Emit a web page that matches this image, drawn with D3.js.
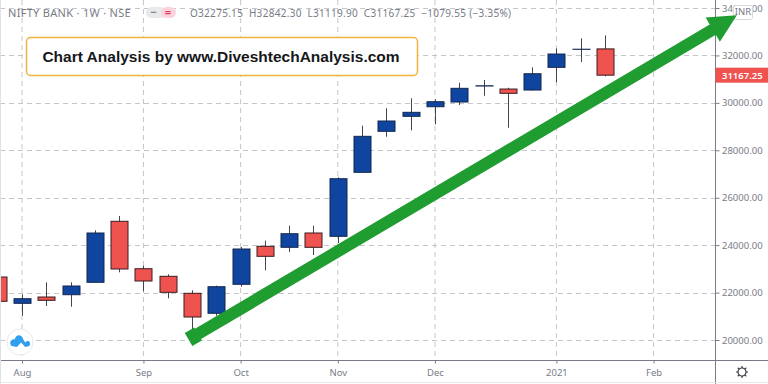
<!DOCTYPE html>
<html>
<head>
<meta charset="utf-8">
<script src="https://d3js.org/d3.v7.min.js"></script>
<style>
    html, body { margin: 0; padding: 0; background: #fff; overflow: hidden; }
    svg { display: block; }
    text { font-family: "Noto Sans", sans-serif; }
    .tick text { fill: #787b86; font-size: 9.5px; }
</style>
</head>
<body>
<script>
// weekly candles
const weeks = ['2020-07-27', '2020-08-03', '2020-08-10', '2020-08-17', '2020-08-24', '2020-08-31', '2020-09-07',
    '2020-09-14', '2020-09-21', '2020-09-28', '2020-10-05', '2020-10-12', '2020-10-19', '2020-10-26', '2020-11-02',
    '2020-11-09', '2020-11-16', '2020-11-23', '2020-11-30', '2020-12-07', '2020-12-14', '2020-12-21', '2020-12-28',
    '2021-01-04', '2021-01-11', '2021-01-18'];
const opens = [22656, 21547, 21813, 21910, 22433, 25005, 23006, 22686, 21969, 21126, 22349, 23951, 23909, 24512, 24372,
    27071, 28800, 29432, 29837, 30035, 30710, 30583, 30541, 31498, 32257, 32275.15];
const closes = [21632, 21741, 21674, 22277, 24512, 22994, 22488, 22011, 20970, 22247, 23837, 23529, 24482, 23909, 26801,
    28589, 29234, 29601, 30048, 30613, 30720, 30402, 31228, 32059, 32262, 31167.25];
const highs = [22700, 21927, 22433, 22433, 24625, 25228, 23133, 22770, 22096, 22290, 23921, 24187, 24819, 24819, 26860,
    29036, 29769, 30191, 30149, 30849, 30963, 30638, 31498, 32300, 32721, 32842.30];
const lows = [21600, 21025, 21434, 21404, 22420, 22854, 22053, 21758, 20422, 21025, 22247, 22939, 23710, 23584, 24090,
    27050, 28572, 28842, 29095, 29909, 30301, 28951, 30520, 30866, 31722, 31119.90];

const priceTicks = [20000, 22000, 24000, 26000, 28000, 30000, 32000, 34000];
const monthDates = ['2020-08-03', '2020-09-07', '2020-10-05', '2020-11-02', '2020-11-30', '2021-01-04', '2021-02-01'];
const monthLabels = ['Aug', 'Sep', 'Oct', 'Nov', 'Dec', '2021', 'Feb'];
const headerTitle = 'NIFTY BANK · 1W · NSE';
const headerValues = 'O32275.15  H32842.30  L31119.90  C31167.25  −1079.55 (−3.35%)';
const lastPrice = 31167.25;
const bannerText = 'Chart Analysis by www.DiveshtechAnalysis.com';
const arrowStart = { date: '2020-09-20', price: 20020 };
const arrowTip = { date: '2021-02-25', price: 33690 };

const width = 768;
const height = 384;
const axisX = 715.5;
const axisY = 360.5;
const bodyWidth = 17;

const parseDate = d3.utcParse('%Y-%m-%d');

const x = d3.scaleUtc()
    .domain([parseDate(weeks[0]), parseDate(weeks[weeks.length - 1])])
    .range([-2.3, 605]);

const y = d3.scaleLinear()
    .domain([20000, 34000])
    .range([340, 8]);

const svg = d3.select('body').append('svg')
    .attr('width', width)
    .attr('height', height);

svg.append('rect')
    .attr('width', width)
    .attr('height', height)
    .attr('fill', '#fff');

// grid
const gridColor = '#c4c6cc';
svg.append('g')
    .selectAll('line')
    .data(priceTicks)
    .join('line')
    .attr('x1', 0)
    .attr('x2', axisX)
    .attr('y1', d => Math.round(y(d)) + 0.5)
    .attr('y2', d => Math.round(y(d)) + 0.5)
    .attr('stroke', gridColor)
    .attr('stroke-dasharray', '5 4');

svg.append('g')
    .selectAll('line')
    .data(monthDates)
    .join('line')
    .attr('x1', d => x(parseDate(d)))
    .attr('x2', d => x(parseDate(d)))
    .attr('y1', 0)
    .attr('y2', axisY)
    .attr('stroke', gridColor)
    .attr('stroke-dasharray', '5 4');

// candles
const candles = svg.append('g')
    .selectAll('g')
    .data(weeks)
    .join('g');

candles.append('line')
    .attr('x1', d => Math.round(x(parseDate(d))) + 0.5)
    .attr('x2', d => Math.round(x(parseDate(d))) + 0.5)
    .attr('y1', (d, i) => y(highs[i]))
    .attr('y2', (d, i) => y(lows[i]))
    .attr('stroke', '#43464f');

candles.append('rect')
    .attr('x', d => Math.round(x(parseDate(d))) + 0.5 - bodyWidth / 2)
    .attr('y', (d, i) => y(Math.max(opens[i], closes[i])))
    .attr('width', bodyWidth)
    .attr('height', (d, i) => Math.abs(y(opens[i]) - y(closes[i])))
    .attr('fill', (d, i) => closes[i] >= opens[i] ? '#0f459e' : '#ef5350')
    .attr('stroke', (d, i) => closes[i] >= opens[i] ? '#12264f' : '#3a1c20');

// price axis
const priceAxis = svg.append('g')
    .attr('transform', `translate(${axisX},0)`)
    .call(d3.axisRight(y).tickValues(priceTicks).tickFormat(d3.format('.2f')).tickSize(4).tickPadding(2.5));
priceAxis.select('.domain').attr('d', `M0,0V${height}`).attr('stroke', '#787b86');
priceAxis.selectAll('.tick line').attr('stroke', '#787b86');

// time axis
const timeAxis = svg.append('g')
    .attr('transform', `translate(0,${axisY})`)
    .call(d3.axisBottom(x)
        .tickValues(monthDates.map(parseDate))
        .tickFormat((d, i) => monthLabels[i])
        .tickSize(3)
        .tickPadding(6));
timeAxis.select('.domain').attr('d', `M0,0H${width}`).attr('stroke', '#787b86');
timeAxis.selectAll('.tick line').attr('stroke', '#787b86');

// last price label
svg.append('rect')
    .attr('x', axisX)
    .attr('y', y(lastPrice) - 7.5)
    .attr('width', width - axisX)
    .attr('height', 15)
    .attr('fill', '#ef5350');
svg.append('text')
    .attr('x', axisX + 6.5)
    .attr('y', y(lastPrice) + 3.5)
    .attr('fill', '#fff')
    .attr('font-size', 9.5)
    .attr('font-weight', 600)
    .text(d3.format('.2f')(lastPrice));

// header
svg.append('text')
    .attr('x', 8)
    .attr('y', 17)
    .attr('fill', '#787b86')
    .attr('font-size', 11)
    .style('letter-spacing', '0.3px')
    .text(headerTitle);

svg.append('rect').attr('x', 146).attr('y', 7).attr('width', 20).attr('height', 11).attr('rx', 5.5).attr('fill', '#e8e9eb');
svg.append('rect').attr('x', 161).attr('y', 7).attr('width', 15).attr('height', 11).attr('rx', 5.5).attr('fill', '#fbd3dd');
svg.append('text').attr('x', 153.5).attr('y', 16).attr('text-anchor', 'middle')
    .attr('font-size', 11).attr('font-weight', 700).attr('fill', '#858892').text('−');
svg.append('text').attr('x', 168).attr('y', 16).attr('text-anchor', 'middle')
    .attr('font-size', 11).attr('font-weight', 700).attr('fill', '#e0406c').text('=');

svg.append('text')
    .attr('x', 190)
    .attr('y', 17)
    .attr('fill', '#787b86')
    .attr('font-size', 10)
    .style('white-space', 'pre')
    .style('letter-spacing', '0.29px')
    .text(headerValues);

// banner
svg.append('rect')
    .attr('x', 26.5)
    .attr('y', 37.5)
    .attr('width', 391)
    .attr('height', 38)
    .attr('rx', 4)
    .attr('fill', '#fff')
    .attr('stroke', '#f0b43c')
    .attr('stroke-width', 1.5);
svg.append('text')
    .attr('x', 221)
    .attr('y', 62)
    .attr('text-anchor', 'middle')
    .attr('fill', '#16171b')
    .attr('font-size', 15.5)
    .attr('font-weight', 700)
    .style('font-family', '"Liberation Sans", sans-serif')
    .text(bannerText);

// INR badge sits over the 34000 label
svg.append('rect')
    .attr('x', 733.5)
    .attr('y', 5.5)
    .attr('width', 19)
    .attr('height', 14)
    .attr('rx', 2)
    .attr('fill', '#fff')
    .attr('stroke', '#d6d8de');

// trend arrow
const x0 = x(parseDate(arrowStart.date));
const y0 = y(arrowStart.price);
const x1 = x(parseDate(arrowTip.date));
const y1 = y(arrowTip.price);
const len = Math.hypot(x1 - x0, y1 - y0);
const ux = (x1 - x0) / len;
const uy = (y1 - y0) / len;
// point at distance a along the arrow and b across it
const at = (a, b) => [x0 + ux * a - uy * b, y0 + uy * a + ux * b];
const shaft = 6;
const nub = 7.5;
const headLen = 28;
const headHalf = 14;
const arrowPoints = [
    at(0, -nub), at(11, -nub), at(11, -shaft), at(len - headLen, -shaft), at(len - headLen, -headHalf),
    at(len, 0),
    at(len - headLen, headHalf), at(len - headLen, shaft), at(11, shaft), at(11, nub), at(0, nub)
];
svg.append('path')
    .attr('d', d3.line()(arrowPoints) + 'Z')
    .attr('fill', '#1f9d30');

svg.append('text')
    .attr('x', 743)
    .attr('y', 15)
    .attr('text-anchor', 'middle')
    .attr('fill', '#787b86')
    .attr('font-size', 9.5)
    .text('INR');

// logo badge
const logo = svg.append('g').attr('transform', 'translate(20,342)');
logo.append('circle').attr('r', 13).attr('fill', '#fff').attr('stroke', '#e8eaee');
logo.append('path')
    .attr('d', 'M-8,4 C-11,1 -8,-3 -5,-2 C-4,-7 2,-7 3,-2 L5,1 C7,-2 11,0 9,4 L5,5 L1,1 L-3,5 Z')
    .attr('transform', 'translate(0,-0.5) scale(1.05,1.1)')
    .attr('fill', '#2f9ff0');

// settings gear
const gear = svg.append('g').attr('transform', 'translate(742,372)');
gear.append('circle').attr('r', 4).attr('fill', 'none').attr('stroke', '#3c3f47').attr('stroke-width', 1.2);
gear.selectAll('line')
    .data(d3.range(8))
    .join('line')
    .attr('x1', d => Math.cos(d * Math.PI / 4) * 4)
    .attr('y1', d => Math.sin(d * Math.PI / 4) * 4)
    .attr('x2', d => Math.cos(d * Math.PI / 4) * 6)
    .attr('y2', d => Math.sin(d * Math.PI / 4) * 6)
    .attr('stroke', '#3c3f47')
    .attr('stroke-width', 1.2);

// thin frame of the widget
svg.append('line').attr('x1', 0.5).attr('x2', 0.5).attr('y1', 0).attr('y2', height).attr('stroke', '#dfe1e6');
svg.append('line').attr('x1', 0).attr('x2', width).attr('y1', height - 1.5).attr('y2', height - 1.5).attr('stroke', '#e6e8ec');
</script>
</body>
</html>
